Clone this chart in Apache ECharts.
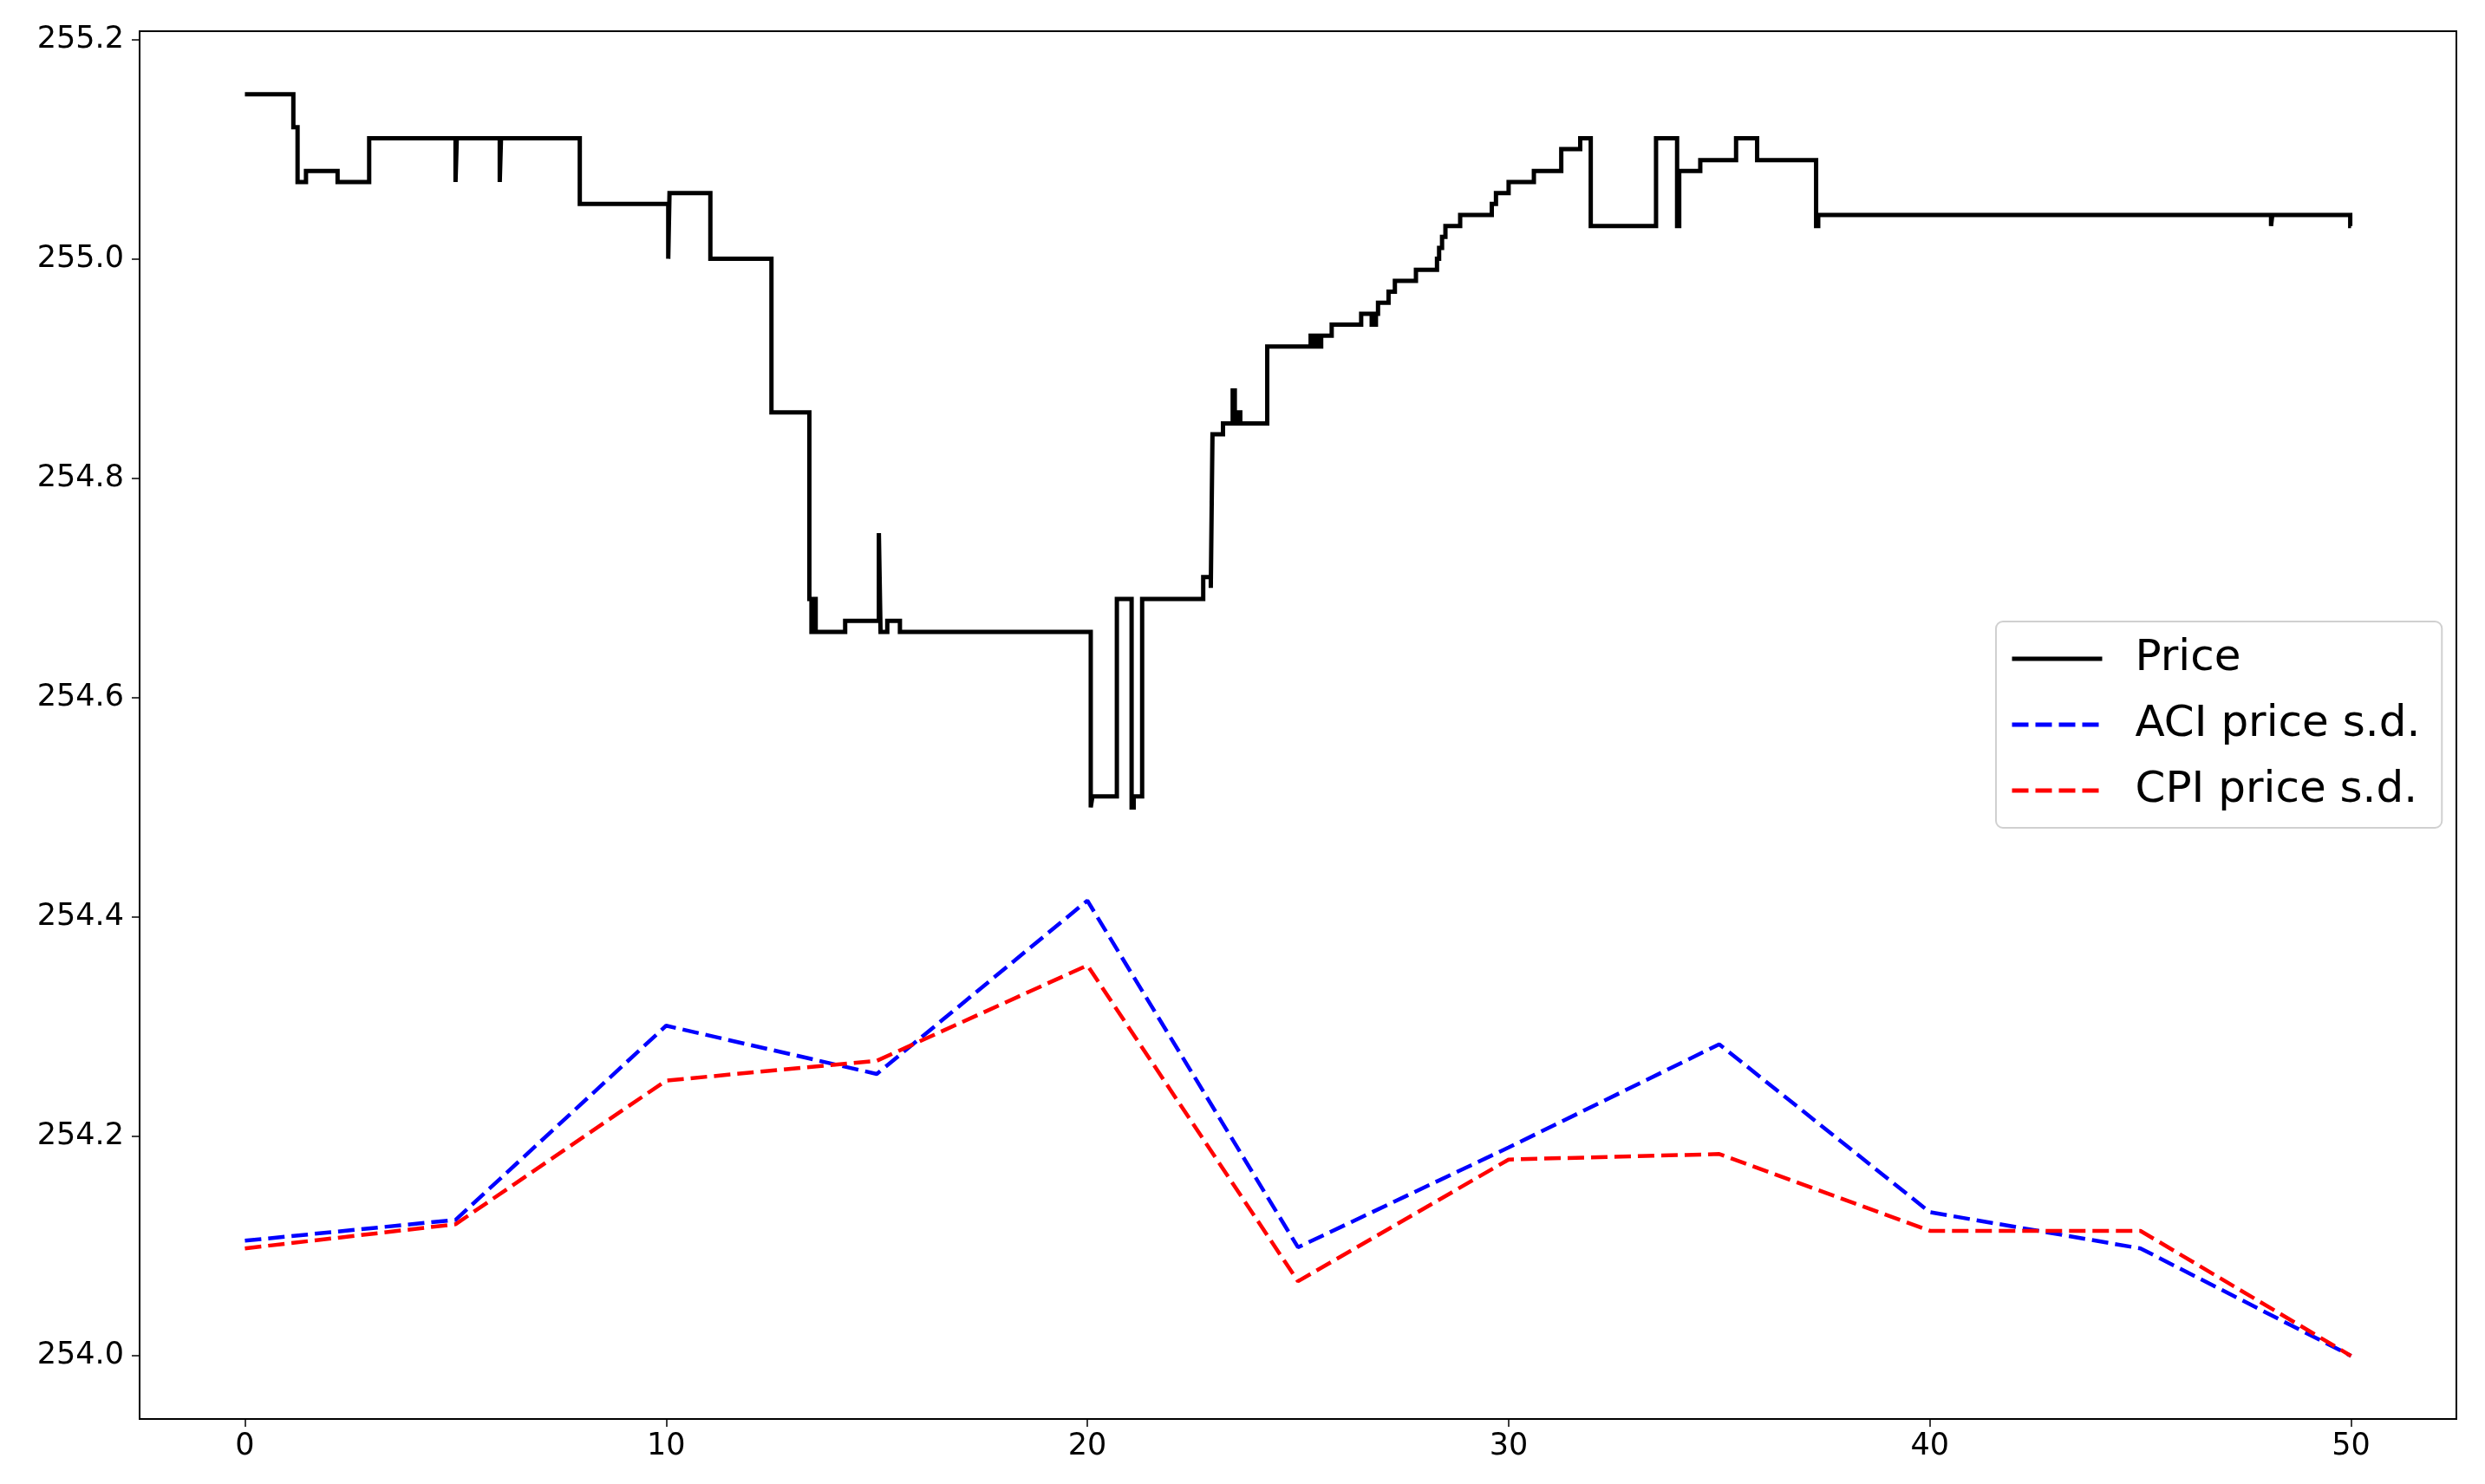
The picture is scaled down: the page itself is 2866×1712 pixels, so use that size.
<!DOCTYPE html>
<html>
<head>
<meta charset="utf-8">
<script src="https://cdn.jsdelivr.net/npm/echarts@6/dist/echarts.min.js"></script>
<style>
html,body{margin:0;padding:0;background:#fff;}
#chart{width:2866px;height:1712px;}
</style>
</head>
<body>
<div id="chart"></div>
<script>
// Price step series: value holds from x until the next x
const priceX = [0, 1.15, 1.25, 1.45, 2.2, 2.95, 5.0, 5.03, 6.05, 6.08, 7.95, 10.05, 10.08, 11.05, 12.5,
  13.4, 13.45, 13.5, 13.55, 14.25, 15.05, 15.09, 15.25, 15.55, 20.08, 20.12, 20.7, 21.05, 21.1, 21.3,
  22.75, 22.93, 22.97, 23.22, 23.45, 23.5, 23.58, 23.63, 24.27, 25.3, 25.35, 25.42, 25.47, 25.55, 25.8,
  26.5, 26.75, 26.85, 26.9, 27.15, 27.3, 27.8, 28.3, 28.35, 28.42, 28.5, 28.85, 29.6, 29.7, 30.0, 30.6,
  31.25, 31.7, 31.95, 33.5, 34.0, 34.05, 34.55, 35.4, 35.9, 37.3, 37.35, 48.1, 48.13, 49.98, 50.0];
const priceY = [255.15, 255.12, 255.07, 255.08, 255.07, 255.11, 255.07, 255.11, 255.07, 255.11, 255.05, 255.00, 255.06, 255.00, 254.86,
  254.69, 254.66, 254.69, 254.66, 254.67, 254.75, 254.66, 254.67, 254.66, 254.50, 254.51, 254.69, 254.50, 254.51, 254.69,
  254.71, 254.70, 254.84, 254.85, 254.88, 254.85, 254.86, 254.85, 254.92, 254.93, 254.92, 254.93, 254.92, 254.93, 254.94,
  254.95, 254.94, 254.95, 254.96, 254.97, 254.98, 254.99, 255.00, 255.01, 255.02, 255.03, 255.04, 255.05, 255.06, 255.07, 255.08,
  255.10, 255.11, 255.03, 255.11, 255.03, 255.08, 255.09, 255.11, 255.09, 255.03, 255.04, 255.03, 255.04, 255.03, 255.03];

// Standard-deviation series sampled every 5 units
const sdX = [0, 5, 10, 15, 20, 25, 30, 35, 40, 45, 50];
const aciSd = [254.105, 254.124, 254.301, 254.257, 254.415, 254.099, 254.19, 254.284, 254.131, 254.098, 254.0];
const cpiSd = [254.098, 254.120, 254.251, 254.269, 254.356, 254.068, 254.179, 254.184, 254.114, 254.114, 254.0];

const xTicks = [0, 10, 20, 30, 40, 50];
const yTicks = [254.0, 254.2, 254.4, 254.6, 254.8, 255.0, 255.2];
const seriesNames = ['Price', 'ACI price s.d.', 'CPI price s.d.'];

const pair = (xs, ys) => xs.map((x, i) => [x, ys[i]]);

const chart = echarts.init(document.getElementById('chart'), null, {renderer: 'canvas'});
const font = 'DejaVu Sans';
chart.setOption({
  animation: false,
  backgroundColor: '#fff',
  grid: {left: 161, right: 33, top: 36, bottom: 75, show: true, borderColor: '#000', borderWidth: 2, backgroundColor: 'transparent'},
  xAxis: {
    type: 'value', min: -2.5, max: 52.5,
    axisLine: {show: true, onZero: false, lineStyle: {color: '#000', width: 2}},
    axisTick: {show: true, length: 9, lineStyle: {color: '#000', width: 1.5}, customValues: xTicks},
    axisLabel: {customValues: xTicks, color: '#000', fontFamily: font, fontSize: 35, margin: 14},
    splitLine: {show: false}
  },
  yAxis: {
    type: 'value', min: 253.9425, max: 255.2075,
    axisLine: {show: true, onZero: false, lineStyle: {color: '#000', width: 2}},
    axisTick: {show: true, length: 9, lineStyle: {color: '#000', width: 1.5}, customValues: yTicks},
    axisLabel: {customValues: yTicks, color: '#000', fontFamily: font, fontSize: 35, margin: 18,
      formatter: v => Number(v).toFixed(1)},
    splitLine: {show: false}
  },
  legend: {
    orient: 'vertical', left: 2302, top: 717,
    data: seriesNames,
    itemWidth: 104, itemHeight: 14, itemGap: 26,
    padding: [18, 25, 18, 16],
    backgroundColor: '#fff',
    borderColor: '#d0d0d0', borderWidth: 2, borderRadius: 8,
    itemStyle: {opacity: 0, borderWidth: 0},
    lineStyle: {width: 5},
    textStyle: {fontFamily: font, fontSize: 50, color: '#000', padding: [0, 0, 0, 33]}
  },
  series: [
    {name: seriesNames[0], type: 'line', step: 'end', data: pair(priceX, priceY), symbol: 'none',
      lineStyle: {color: '#000', width: 5, join: 'miter'}, itemStyle: {color: '#000'}, z: 3},
    {name: seriesNames[1], type: 'line', data: pair(sdX, aciSd), symbol: 'none',
      lineStyle: {color: '#0000ff', width: 4.5, type: [19, 8]}, itemStyle: {color: '#0000ff'}, z: 2},
    {name: seriesNames[2], type: 'line', data: pair(sdX, cpiSd), symbol: 'none',
      lineStyle: {color: '#ff0000', width: 4.5, type: [19, 8]}, itemStyle: {color: '#ff0000'}, z: 2}
  ]
});
</script>
</body>
</html>
